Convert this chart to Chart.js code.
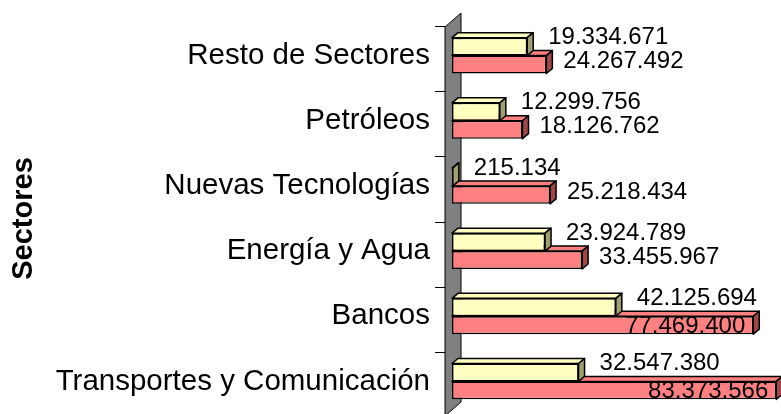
<!DOCTYPE html>
<html>
<head>
<meta charset="utf-8">
<script src="https://cdn.jsdelivr.net/npm/chart.js@4.4.0/dist/chart.umd.min.js"></script>
<style>
	html, body { margin: 0; padding: 0; background: #fff; overflow: hidden; }
</style>
</head>
<body>
<canvas id="bar-chartcanvas" width="781" height="414"></canvas>
<script>
var sectores = ["Resto de Sectores", "Petróleos", "Nuevas Tecnologías", "Energía y Agua", "Bancos", "Transportes y Comunicación"];
var serie1 = [19334671, 12299756, 215134, 23924789, 42125694, 32547380];
var serie2 = [24267492, 18126762, 25218434, 33455967, 77469400, 83373566];
var tituloEje = "Sectores";

var frente = ["#FFFFC0", "#FF8080"];
var lado = ["#A0A070", "#A04848"];
var fuente = "'Liberation Sans', Arial, sans-serif";
var dx = 6, dy = 5;

function puntos(v) {
	return String(v).replace(/\B(?=(\d{3})+(?!\d))/g, ".");
}

function poligono(c, pts) {
	c.beginPath();
	c.moveTo(pts[0][0], pts[0][1]);
	for (var i = 1; i < pts.length; i++) c.lineTo(pts[i][0], pts[i][1]);
	c.closePath();
	c.fill();
	c.stroke();
}

// gray back wall + tick marks
var pared = {
	id: "pared",
	beforeDatasetsDraw: function(chart) {
		var c = chart.ctx, a = chart.chartArea, ys = chart.scales.y;
		c.save();
		c.fillStyle = "#808080";
		c.strokeStyle = "#000";
		c.lineWidth = 1;
		poligono(c, [[a.left - 7, a.top + 4], [a.left + 9, a.top - 10], [a.left + 9, a.bottom - 12], [a.left - 7, a.bottom + 2]]);
		var paso = (a.bottom - a.top) / sectores.length;
		for (var i = 0; i < sectores.length; i++) {
			var py = Math.round(ys.getPixelForValue(i) - paso / 2 + 3) + 0.5;
			c.beginPath();
			c.moveTo(a.left - 17, py);
			c.lineTo(a.left - 7, py);
			c.stroke();
		}
		c.restore();
	}
};

// top and side faces for each bar
var caras = {
	id: "caras",
	afterDatasetDraw: function(chart, args) {
		var c = chart.ctx, i = args.index;
		c.save();
		c.strokeStyle = "#000";
		c.lineWidth = 1.5;
		c.lineJoin = "round";
		args.meta.data.forEach(function(el) {
			var t = el.y - el.height / 2, b = el.y + el.height / 2;
			c.fillStyle = frente[i];
			poligono(c, [[el.base, t], [el.base + dx, t - dy], [el.x + dx, t - dy], [el.x, t]]);
			c.fillStyle = lado[i];
			poligono(c, [[el.x, t], [el.x + dx, t - dy], [el.x + dx, b - dy], [el.x, b]]);
		});
		c.restore();
	}
};

// value labels
var etiquetas = {
	id: "etiquetas",
	afterDatasetsDraw: function(chart) {
		var c = chart.ctx;
		c.save();
		c.font = "24px " + fuente;
		c.fillStyle = "#000";
		c.textBaseline = "middle";
		chart.data.datasets.forEach(function(ds, i) {
			chart.getDatasetMeta(i).data.forEach(function(el, j) {
				var txt = puntos(ds.data[j]);
				var w = c.measureText(txt).width;
				var x = el.x + (i === 0 ? 21 : 17);
				var y = el.y + (i === 0 ? -9 : -3);
				if (x + w > chart.width) {
					c.textAlign = "right";
					c.fillText(txt, el.x - 8, el.y + 1);
				} else {
					c.textAlign = "left";
					c.fillText(txt, x, y);
				}
			});
		});
		c.restore();
	}
};

var ctx = document.getElementById("bar-chartcanvas");

var data = {
	labels: sectores,
	datasets: [
		{
			label: "Serie 1",
			data: serie1,
			backgroundColor: frente[0],
			borderColor: "#000",
			borderWidth: 1.5,
			borderSkipped: false
		},
		{
			label: "Serie 2",
			data: serie2,
			backgroundColor: frente[1],
			borderColor: "#000",
			borderWidth: 1.5,
			borderSkipped: false
		}
	]
};

var options = {
	indexAxis: "y",
	responsive: false,
	animation: false,
	layout: { padding: { top: 23, right: 0, bottom: 0, left: 0 } },
	datasets: { bar: { categoryPercentage: 0.55, barPercentage: 1 } },
	plugins: {
		legend: { display: false },
		tooltip: { enabled: false }
	},
	scales: {
		x: { display: false, min: 0, max: 84600000 },
		y: {
			grid: { display: false, drawTicks: false },
			border: { display: false },
			ticks: { color: "#000", padding: 22, font: { family: fuente, size: 29.5 } },
			title: {
				display: true,
				text: tituloEje,
				color: "#000",
				padding: { top: 7, bottom: 0 },
				font: { family: fuente, size: 29, weight: "bold" }
			},
			afterFit: function(scale) {
				scale.width = 452;
				scale.paddingTop = 0;
				scale.paddingBottom = 0;
			}
		}
	}
};

var chart = new Chart(ctx, {
	type: "bar",
	data: data,
	options: options,
	plugins: [pared, caras, etiquetas]
});
</script>
</body>
</html>
